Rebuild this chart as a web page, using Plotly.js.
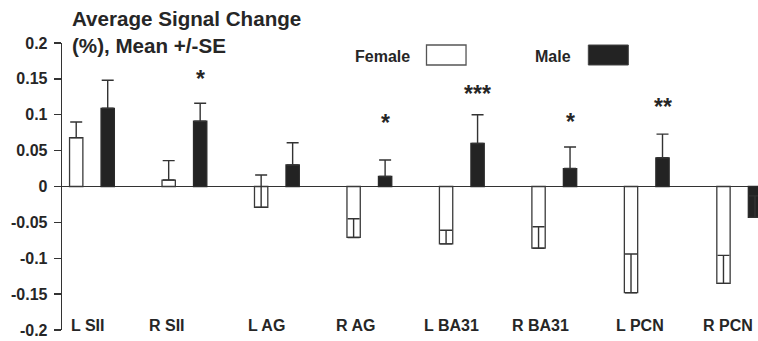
<!DOCTYPE html>
<html>
<head>
<meta charset="utf-8">
<script src="https://cdn.plot.ly/plotly-3.0.1.min.js"></script>
<style>html,body{margin:0;padding:0;background:#fff;}#chart{width:758px;height:341px;}</style>
</head>
<body>
<div id="chart"></div>
<script>
// ---- data ----
var regions = ['L SII', 'R SII', 'L AG', 'R AG', 'L BA31', 'R BA31', 'L PCN', 'R PCN'];
var femaleMean = [0.068, 0.009, -0.029, -0.071, -0.080, -0.086, -0.148, -0.135];
var femaleSE   = [0.022, 0.027, 0.045, 0.026, 0.019, 0.030, 0.054, 0.039];
var maleMean   = [0.109, 0.091, 0.030, 0.014, 0.060, 0.025, 0.040, -0.043];
var maleSE     = [0.039, 0.025, 0.031, 0.023, 0.040, 0.030, 0.033, 0.030];
var maleSig    = ['', '*', '', '*', '***', '*', '**', ''];
var seriesNames = ['Female', 'Male'];
var yTickVals  = [0.2, 0.15, 0.1, 0.05, 0, -0.05, -0.1, -0.15, -0.2];
var yTickText  = ['0.2', '0.15', '0.1', '0.05', '0', '-0.05', '-0.1', '-0.15', '-0.2'];
var titleText  = 'Average Signal Change<br>(%), Mean +/-SE';

// ---- styling ----
var FONT = 'Liberation Sans, Arial, Helvetica, sans-serif';
var INK = '#262626';
var OFF = 0.1703, BW = 0.144;
var labelNudgePx = [7, -6, 1, -3, 1, -3, 4, 0];     // hand placement of the category labels
var sigLiftPx    = [0, 9, 0, 22, 6, 10, 12, 0];     // hand placement of the significance stars
var idx = regions.map(function (_, i) { return i; });
var zeros = regions.map(function () { return 0; });

var traces = [
  {
    type: 'bar', name: seriesNames[0],
    x: idx.map(function (i) { return i - OFF; }), y: femaleMean,
    width: idx.map(function () { return BW; }),
    marker: { color: '#ffffff', line: { color: '#3a3a3a', width: 1.3 } },
    error_y: { type: 'data', symmetric: false, array: femaleSE, arrayminus: zeros,
               color: '#333', thickness: 1.4, width: 6 },
    showlegend: false, hoverinfo: 'skip'
  },
  {
    type: 'bar', name: seriesNames[1],
    x: idx.map(function (i) { return i + OFF; }), y: maleMean,
    width: idx.map(function () { return BW; }),
    marker: { color: '#232323', line: { color: '#2a2a2a', width: 1.3 } },
    error_y: { type: 'data', symmetric: false, array: maleSE, arrayminus: zeros,
               color: '#333', thickness: 1.4, width: 6 },
    showlegend: false, hoverinfo: 'skip'
  }
];

var annotations = [];
regions.forEach(function (r, i) {
  annotations.push({
    xref: 'x', yref: 'paper', x: i - 0.12, y: 0, yanchor: 'middle', xanchor: 'center',
    xshift: labelNudgePx[i], yshift: 5, text: r, showarrow: false,
    font: { family: FONT, size: 16, color: INK, weight: 'bold' }
  });
  if (maleSig[i]) {
    annotations.push({
      xref: 'x', yref: 'y', x: i + OFF, y: maleMean[i] + maleSE[i],
      yanchor: 'bottom', xanchor: 'center', yshift: sigLiftPx[i], text: maleSig[i], showarrow: false,
      font: { family: FONT, size: 23, color: INK, weight: 'bold' }
    });
  }
});
// legend labels
annotations.push({ xref: 'paper', yref: 'paper', x: 0.5024, y: 0.9547, xanchor: 'right', yanchor: 'middle',
  text: seriesNames[0], showarrow: false, font: { family: FONT, size: 16, color: INK, weight: 'bold' } });
annotations.push({ xref: 'paper', yref: 'paper', x: 0.7338, y: 0.9547, xanchor: 'right', yanchor: 'middle',
  text: seriesNames[1], showarrow: false, font: { family: FONT, size: 16, color: INK, weight: 'bold' } });

var shapes = [
  { type: 'rect', xref: 'paper', yref: 'paper', x0: 0.5237, x1: 0.5805, y0: 0.9233, y1: 0.993,
    fillcolor: '#ffffff', line: { color: '#555', width: 1.3 } },
  { type: 'rect', xref: 'paper', yref: 'paper', x0: 0.7562, x1: 0.8137, y0: 0.9233, y1: 0.993,
    fillcolor: '#232323', line: { color: '#444', width: 1 } }
];

var layout = {
  width: 758, height: 341,
  margin: { l: 62, r: 0, t: 43, b: 11, pad: 0 },
  paper_bgcolor: '#ffffff', plot_bgcolor: '#ffffff',
  showlegend: false,
  barmode: 'overlay',
  title: {
    text: titleText, xref: 'container', yref: 'container',
    x: 72 / 758, xanchor: 'left', y: 1 - 26 / 341, yanchor: 'top',
    font: { family: FONT, size: 20.6, color: INK, weight: 'bold' }
  },
  xaxis: {
    range: [-0.324, 7.203], showline: false, showticklabels: false, ticks: '',
    showgrid: false, zeroline: false, fixedrange: true
  },
  yaxis: {
    range: [-0.2, 0.2], tickvals: yTickVals, ticktext: yTickText,
    ticks: 'outside', ticklen: 7, tickwidth: 1.3, tickcolor: '#333',
    showline: true, linecolor: '#333', linewidth: 1.3,
    zeroline: true, zerolinecolor: '#333', zerolinewidth: 1.3,
    showgrid: false, fixedrange: true, ticklabelstandoff: 3,
    tickfont: { family: FONT, size: 16, color: INK, weight: 'bold' }
  },
  annotations: annotations,
  shapes: shapes
};

Plotly.newPlot('chart', traces, layout, { staticPlot: true, displayModeBar: false });
</script>
</body>
</html>
